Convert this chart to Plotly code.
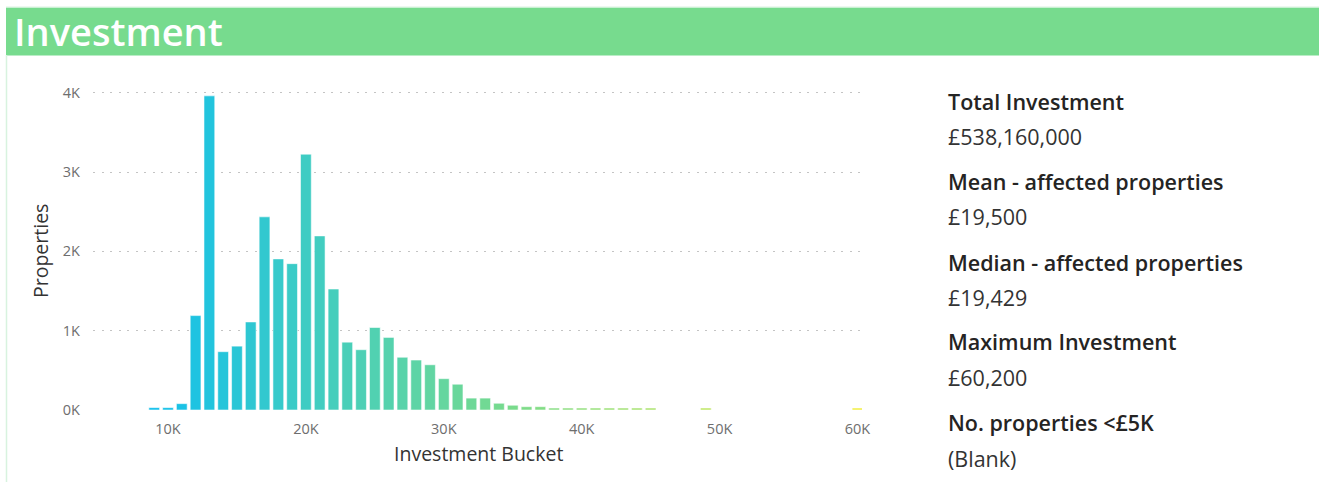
import plotly.graph_objects as go

# Histogram of investment per property (bucket midpoint in GBP -> number of properties)
buckets = [9000, 10000, 11000, 12000, 13000, 14000, 15000, 16000, 17000, 18000,
           19000, 20000, 21000, 22000, 23000, 24000, 25000, 26000, 27000, 28000,
           29000, 30000, 31000, 32000, 33000, 34000, 35000, 36000, 37000, 38000,
           39000, 40000, 41000, 42000, 43000, 44000, 45000, 49000, 60000]
properties = [30, 30, 80, 1190, 3960, 735, 805, 1110, 2435, 1905,
              1845, 3225, 2195, 1525, 855, 760, 1040, 915, 665, 630,
              570, 395, 325, 150, 150, 85, 60, 42, 42, 25,
              25, 25, 25, 25, 25, 25, 25, 25, 25]

x_tick_vals = [10000, 20000, 30000, 40000, 50000, 60000]
x_tick_text = ["10K", "20K", "30K", "40K", "50K", "60K"]
y_tick_vals = [0, 1000, 2000, 3000, 4000]
y_tick_text = ["0K", "1K", "2K", "3K", "4K"]

# Summary card (label, value)
summary_labels = ["Total Investment", "Mean - affected properties",
                  "Median - affected properties", "Maximum Investment",
                  "No. properties <£5K"]
summary_values = ["£538,160,000", "£19,500", "£19,429", "£60,200", "(Blank)"]

W, H = 1319, 482
PX0, PX1 = 93, 862      # plot area, left/right in pixels
PY0, PY1 = 88, 410      # plot area, top/bottom in pixels


def px(x):
    return (x - PX0) / (PX1 - PX0)


def py(y):
    return (PY1 - y) / (PY1 - PY0)


TEXT_FONT = "'Open Sans', 'Noto Sans', sans-serif"
AXIS_FONT = "'Open Sans', 'Noto Sans', sans-serif"

fig = go.Figure()
fig.add_trace(go.Bar(
    x=buckets,
    y=properties,
    width=780,
    marker=dict(
        color=buckets,
        colorscale=[[0, "#12C0EC"], [0.5, "#77DB8E"], [1, "#F2EE3C"]],
        cmin=9000, cmax=60000,
        line=dict(color="rgba(255,255,255,0.55)", width=1),
    ),
    hovertemplate="%{x}: %{y}<extra></extra>",
))

shapes = [
    # header band
    dict(type="rect", xref="paper", yref="paper",
         x0=px(6), x1=px(W), y0=py(55.5), y1=py(7.5),
         fillcolor="#77DB8E", line=dict(width=0), layer="below"),
    # card border
    dict(type="line", xref="paper", yref="paper",
         x0=px(6.5), x1=px(6.5), y0=py(55), y1=py(H),
         line=dict(color="#D8F3DF", width=1.5)),
    dict(type="line", xref="paper", yref="paper",
         x0=px(6), x1=px(W), y0=py(7), y1=py(7),
         line=dict(color="#D8F3DF", width=1)),
]

annotations = [
    dict(text="Investment", xref="paper", yref="paper",
         x=px(12), y=py(31), xanchor="left", yanchor="middle", showarrow=False,
         font=dict(family=TEXT_FONT, size=38, color="#FFFFFF", weight=600)),
    dict(text="Properties", xref="paper", yref="paper", textangle=-90,
         x=px(40), y=py(251), xanchor="center", yanchor="middle", showarrow=False,
         font=dict(family=AXIS_FONT, size=19.5, color="#333333")),
    dict(text="Investment Bucket", xref="paper", yref="paper",
         x=px(478), y=py(453), xanchor="center", yanchor="middle", showarrow=False,
         font=dict(family=AXIS_FONT, size=19.5, color="#333333")),
]

label_y = [101, 181, 262, 341, 422]
value_y = [136, 216, 297, 377, 458]
for lab, val, ly, vy in zip(summary_labels, summary_values, label_y, value_y):
    annotations.append(dict(
        text=lab, xref="paper", yref="paper", x=px(946), y=py(ly),
        xanchor="left", yanchor="middle", showarrow=False,
        font=dict(family=TEXT_FONT, size=21.5, color="#252423", weight=600)))
    annotations.append(dict(
        text=val, xref="paper", yref="paper", x=px(946), y=py(vy),
        xanchor="left", yanchor="middle", showarrow=False,
        font=dict(family=TEXT_FONT, size=21.5, color="#333333")))

k_per_px = 1000 / 13.79
fig.update_layout(
    width=W, height=H,
    margin=dict(l=PX0, r=W - PX1, t=PY0, b=H - PY1, pad=0),
    paper_bgcolor="#FFFFFF", plot_bgcolor="#FFFFFF",
    showlegend=False,
    shapes=shapes,
    annotations=annotations,
    bargap=0.22,
    xaxis=dict(
        range=[10000 - (168 - PX0) * k_per_px, 60000 + (PX1 - 857.5) * k_per_px],
        tickvals=x_tick_vals, ticktext=x_tick_text,
        showgrid=False, zeroline=False, showline=False, ticks="",
        ticklabelstandoff=8,
        tickfont=dict(family=AXIS_FONT, size=14.5, color="#6E6E6E"),
    ),
    yaxis=dict(
        range=[0, 4000 * (PY1 - PY0) / (PY1 - 92.7)],
        tickvals=y_tick_vals, ticktext=y_tick_text,
        showgrid=True, gridcolor="#C4C4C4", gridwidth=1, griddash="2px,6.5px",
        zeroline=False, showline=False, ticks="",
        ticklabelstandoff=12,
        tickfont=dict(family=AXIS_FONT, size=14.5, color="#6E6E6E"),
    ),
)

fig.write_html("out.html")
